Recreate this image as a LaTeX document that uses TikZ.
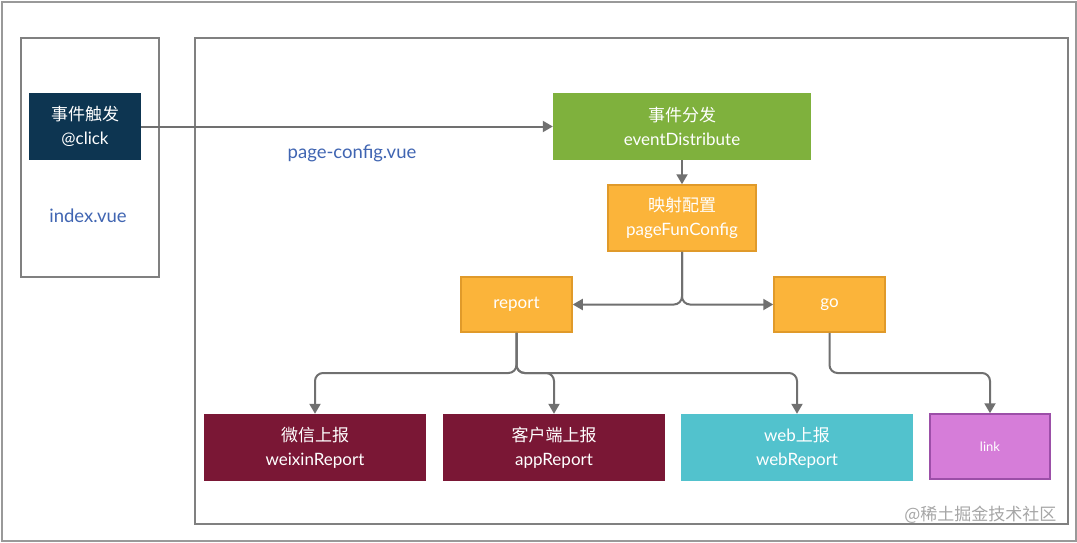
\documentclass[tikz,border=0pt]{standalone}
\usepackage{fontspec}
\setmainfont{Lato}
\newfontfamily\cjk{Noto Sans CJK SC}
\usetikzlibrary{arrows.meta}
\definecolor{frame}{HTML}{808080}
\definecolor{navy}{HTML}{0D3551}
\definecolor{grn}{HTML}{7FB13D}
\definecolor{org}{HTML}{FBB43A}
\definecolor{orgb}{HTML}{E09A2A}
\definecolor{wine}{HTML}{7A1735}
\definecolor{cyan2}{HTML}{52C2CD}
\definecolor{pink2}{HTML}{D67DD9}
\definecolor{pinkb}{HTML}{9C4FA8}
\definecolor{bluetxt}{HTML}{4065B2}
\definecolor{arrgray}{HTML}{707070}
\tikzset{
  x=1pt, y=-1pt,
  frm/.style={draw=frame, line width=2pt},
  boxn/.style={rectangle, inner sep=0pt, align=center, text=white, font=\fontsize{17}{24}\selectfont},
  arr/.style={draw=arrgray, line width=2pt, rounded corners=8pt, -{Triangle[width=11pt,length=10pt]}},
  lbl/.style={text=bluetxt, font=\fontsize{18.5}{22}\selectfont}
}
\begin{document}
\begin{tikzpicture}
\useasboundingbox (0,0) rectangle (1077,543);
\fill[white] (0,0) rectangle (1077,543);
\draw[draw=black!40, line width=1.5pt] (2,2) rectangle (1076,541);
\draw[frm] (21,38) rectangle (159,277);
\draw[frm] (195,38) rectangle (1068,524);

\node[boxn, fill=navy, minimum width=112pt, minimum height=67pt] (click) at (85,126.5) {{\cjk 事件触发}\\@click};
\node[lbl] (idx) at (88,216) {index.vue};
\node[lbl] (pcv) at (352,153) {page-config.vue};

\node[boxn, fill=grn, minimum width=258pt, minimum height=67pt] (ed) at (682,126.5) {{\cjk 事件分发}\\eventDistribute};
\node[boxn, fill=org, draw=orgb, line width=1.5pt, minimum width=148pt, minimum height=66pt] (pfc) at (682,218) {{\cjk 映射配置}\\pageFunConfig};
\node[boxn, fill=org, draw=orgb, line width=1.5pt, minimum width=111pt, minimum height=55pt] (rep) at (516.5,304.5) {report};
\node[boxn, fill=org, draw=orgb, line width=1.5pt, minimum width=111pt, minimum height=55pt] (go) at (829.5,304.5) {go};

\node[boxn, fill=wine, minimum width=222pt, minimum height=67pt] (wx) at (315,447.5) {{\cjk 微信上报}\\weixinReport};
\node[boxn, fill=wine, minimum width=222pt, minimum height=67pt] (app) at (554,447.5) {{\cjk 客户端上报}\\appReport};
\node[boxn, fill=cyan2, minimum width=232pt, minimum height=67pt] (web) at (797,447.5) {web{\cjk 上报}\\webReport};
\node[boxn, fill=pink2, draw=pinkb, line width=1.5pt, minimum width=120pt, minimum height=65pt, font=\fontsize{13}{15}\selectfont] (link) at (990,446.5) {link};

\coordinate (rj) at (516.5,373);
\coordinate (gj) at (829.5,373);

\draw[arr, rounded corners=0pt] (click.east) -- (ed.west);
\draw[arr] (ed.south) -- (pfc.north);
\draw[arr] (pfc.south) |- (rep.east);
\draw[arr] (pfc.south) |- (go.west);
\draw[arr] (rep.south) -- (rj) -| (wx.north);
\draw[arr] (rep.south) -- (rj) -| (app.north);
\draw[arr] (rep.south) -- (rj) -| (web.north);
\draw[arr] (go.south) -- (gj) -| (link.north);

\node[text=black!35, font=\cjk\fontsize{17}{20}\selectfont, anchor=east] (wm) at (1060,515) {@稀土掘金技术社区};
\end{tikzpicture}
\end{document}
